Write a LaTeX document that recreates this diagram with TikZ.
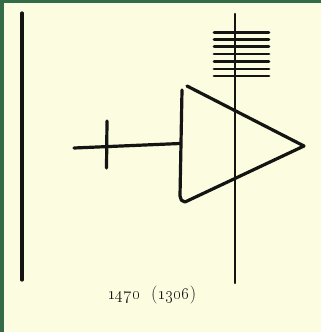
\documentclass[tikz,border=0pt]{standalone}
\usetikzlibrary{calc}
\definecolor{frame}{RGB}{52,108,72}
\definecolor{paper}{RGB}{251,252,224}
\definecolor{ink}{RGB}{20,20,18}
\tikzset{
  heavy/.style={draw=ink,line width=3.2pt,line cap=round,line join=round},
  thin/.style={draw=ink,line width=2.3pt,line cap=round},
  bar/.style={draw=ink,line width=2.9pt,line cap=round},
  caption/.style={text=ink,font=\fontsize{18}{20}\selectfont,inner sep=0pt}
}
\begin{document}
\begin{tikzpicture}[x=1pt,y=-1pt]
\useasboundingbox (0,0) rectangle (321,332);
\fill[frame] (0,0) rectangle (321,332);
\fill[paper] (4,3) rectangle (321,332);
% left vertical
\draw[heavy] (22,13) -- (22,280);
% right vertical
\draw[thin] (235,14) -- (235,283);
% horizontal bars
\foreach \yy in {32.3,39.3,46.7,54,61.7,69,76}
  \draw[bar] (214,\yy) -- (269,\yy);
% triangle
\draw[heavy] (182,90) -- (180,196) to[out=-90,in=180] (185,202) -- (304,146) -- (187,86);
% stem
\draw[heavy] (74,148) -- (180,143.5);
\draw[heavy] (107,121) -- (106.5,168);
% caption
\node[caption] (cap) at (152,295) {\oldstylenums{1470}\hspace{0.6em}(\oldstylenums{1306})};
\end{tikzpicture}
\end{document}
